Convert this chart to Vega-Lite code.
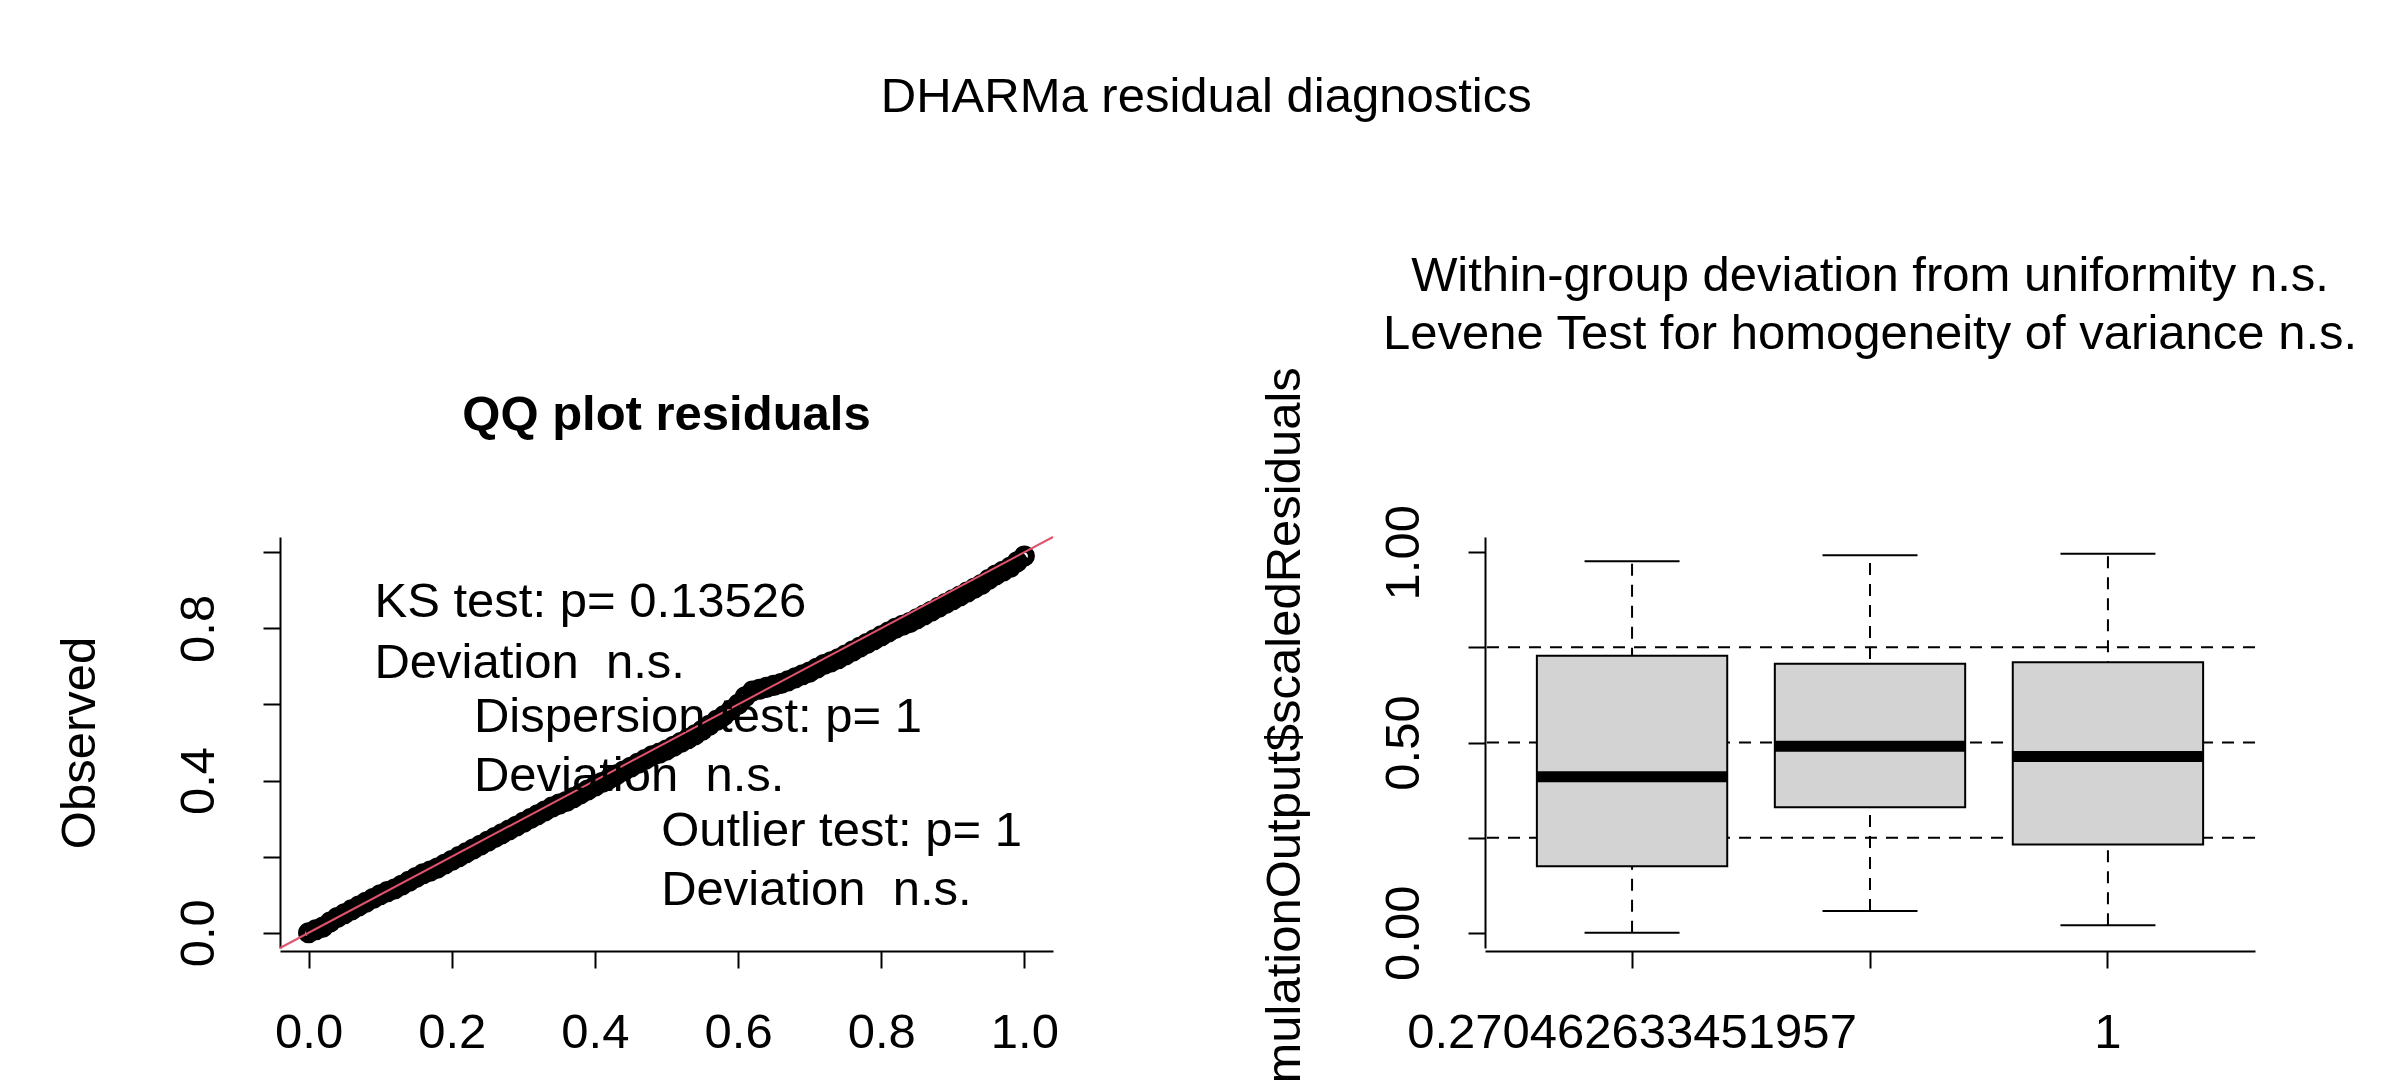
{
  "$schema": "https://vega.github.io/schema/vega-lite/v6.json",
  "background": "white",
  "padding": {"left": 55, "top": 72, "right": 10, "bottom": 10},
  "title": {"text": "DHARMa residual diagnostics", "fontSize": 49, "fontWeight": "normal", "font": "Liberation Sans", "anchor": "middle", "offset": 130},
  "config": {
    "view": {"stroke": null},
    "font": "Liberation Sans",
    "axis": {"labelFontSize": 49, "titleFontSize": 49, "titleFontWeight": "normal", "labelColor": "black", "titleColor": "black", "domainColor": "black", "tickColor": "black", "domainWidth": 2, "tickWidth": 2, "tickSize": 17, "grid": false, "labelFont": "Liberation Sans", "titleFont": "Liberation Sans", "labelLimit": 0}
  },
  "spacing": 200,
  "hconcat": [
    {
      "width": 773,
      "height": 411,
      "title": {"text": "QQ plot residuals", "fontSize": 49, "fontWeight": "bold", "offset": 95},
      "layer": [
        {
          "data": {"values": [
            {"e":0,"o":0},{"e":0.02,"o":0.015},{"e":0.04,"o":0.04},{"e":0.06,"o":0.06},{"e":0.08,"o":0.08},{"e":0.10,"o":0.10},{"e":0.12,"o":0.115},{"e":0.14,"o":0.135},{"e":0.16,"o":0.155},{"e":0.18,"o":0.17},{"e":0.20,"o":0.19},{"e":0.22,"o":0.21},{"e":0.24,"o":0.23},{"e":0.26,"o":0.25},{"e":0.28,"o":0.27},{"e":0.30,"o":0.29},{"e":0.32,"o":0.31},{"e":0.34,"o":0.33},{"e":0.36,"o":0.345},{"e":0.38,"o":0.365},{"e":0.40,"o":0.385},{"e":0.42,"o":0.405},{"e":0.44,"o":0.425},{"e":0.46,"o":0.445},{"e":0.48,"o":0.465},{"e":0.50,"o":0.48},{"e":0.52,"o":0.50},{"e":0.54,"o":0.52},{"e":0.56,"o":0.545},{"e":0.58,"o":0.57},{"e":0.60,"o":0.60},{"e":0.62,"o":0.635},{"e":0.64,"o":0.645},{"e":0.66,"o":0.655},{"e":0.68,"o":0.67},{"e":0.70,"o":0.685},{"e":0.72,"o":0.705},{"e":0.74,"o":0.72},{"e":0.76,"o":0.74},{"e":0.78,"o":0.76},{"e":0.80,"o":0.78},{"e":0.82,"o":0.80},{"e":0.84,"o":0.815},{"e":0.86,"o":0.835},{"e":0.88,"o":0.855},{"e":0.90,"o":0.875},{"e":0.92,"o":0.895},{"e":0.94,"o":0.915},{"e":0.96,"o":0.94},{"e":0.98,"o":0.96},{"e":1.0,"o":0.99},
            {"e":0.01,"o":0.008},{"e":0.03,"o":0.028},{"e":0.05,"o":0.05},{"e":0.07,"o":0.07},{"e":0.09,"o":0.09},{"e":0.11,"o":0.108},{"e":0.13,"o":0.125},{"e":0.15,"o":0.145},{"e":0.17,"o":0.162},{"e":0.19,"o":0.18},{"e":0.21,"o":0.2},{"e":0.23,"o":0.22},{"e":0.25,"o":0.24},{"e":0.27,"o":0.26},{"e":0.29,"o":0.28},{"e":0.31,"o":0.3},{"e":0.33,"o":0.32},{"e":0.35,"o":0.338},{"e":0.37,"o":0.355},{"e":0.39,"o":0.375},{"e":0.41,"o":0.395},{"e":0.43,"o":0.415},{"e":0.45,"o":0.435},{"e":0.47,"o":0.455},{"e":0.49,"o":0.472},{"e":0.51,"o":0.49},{"e":0.53,"o":0.51},{"e":0.55,"o":0.532},{"e":0.57,"o":0.558},{"e":0.59,"o":0.585},{"e":0.61,"o":0.62},{"e":0.63,"o":0.64},{"e":0.65,"o":0.65},{"e":0.67,"o":0.662},{"e":0.69,"o":0.678},{"e":0.71,"o":0.695},{"e":0.73,"o":0.712},{"e":0.75,"o":0.73},{"e":0.77,"o":0.75},{"e":0.79,"o":0.77},{"e":0.81,"o":0.79},{"e":0.83,"o":0.808},{"e":0.85,"o":0.825},{"e":0.87,"o":0.845},{"e":0.89,"o":0.865},{"e":0.91,"o":0.885},{"e":0.93,"o":0.905},{"e":0.95,"o":0.928},{"e":0.97,"o":0.95},{"e":0.99,"o":0.975}
          ]},
          "mark": {"type": "point", "filled": false, "color": "black", "size": 200, "strokeWidth": 7, "opacity": 1},
          "encoding": {
            "x": {"field": "e", "type": "quantitative", "scale": {"domain": [-0.04, 1.04], "nice": false}, "axis": {"title": "Expected", "values": [0, 0.2, 0.4, 0.6, 0.8, 1.0], "format": ".1f", "labelPadding": 40, "titlePadding": 75, "offset": 3}},
            "y": {"field": "o", "type": "quantitative", "scale": {"domain": [-0.04, 1.04], "nice": false}, "axis": {"title": "Observed", "values": [0, 0.2, 0.4, 0.6, 0.8, 1.0], "labelExpr": "datum.value == 0 || datum.value == 0.4 || datum.value == 0.8 ? format(datum.value, '.1f') : ''", "labelAngle": -90, "labelAlign": "center", "labelBaseline": "bottom", "labelPadding": 40, "titlePadding": 70, "offset": 0}}
          }
        },
        {
          "data": {"values": [{"a": -0.04, "b": 1.04}]},
          "mark": {"type": "rule", "color": "#DF536B", "strokeWidth": 2},
          "encoding": {
            "x": {"field": "a", "type": "quantitative"},
            "y": {"field": "a", "type": "quantitative"},
            "x2": {"field": "b"},
            "y2": {"field": "b"}
          }
        },
        {
          "data": {"values": [
            {"x": 0.092, "y": 0.87, "t": "KS test: p= 0.13526"},
            {"x": 0.092, "y": 0.71, "t": "Deviation \u00a0n.s."},
            {"x": 0.231, "y": 0.567, "t": "Dispersion test: p= 1"},
            {"x": 0.231, "y": 0.413, "t": "Deviation \u00a0n.s."},
            {"x": 0.4925, "y": 0.267, "t": "Outlier test: p= 1"},
            {"x": 0.4925, "y": 0.113, "t": "Deviation \u00a0n.s."}
          ]},
          "mark": {"type": "text", "align": "left", "baseline": "middle", "fontSize": 49, "color": "black"},
          "encoding": {
            "x": {"field": "x", "type": "quantitative"},
            "y": {"field": "y", "type": "quantitative"},
            "text": {"field": "t"}
          }
        }
      ]
    },
    {
      "width": 770,
      "height": 411,
      "title": {"text": ["Within-group deviation from uniformity n.s.", "Levene Test for homogeneity of variance n.s."], "fontSize": 49, "fontWeight": "normal", "offset": 8, "lineHeight": 58},
      "data": {"values": [
        {"cat": "0.270462633451957", "lo": 0.0, "q1": 0.175, "med": 0.41, "q3": 0.728, "hi": 0.976},
        {"cat": "0.6", "lo": 0.057, "q1": 0.33, "med": 0.49, "q3": 0.707, "hi": 0.992},
        {"cat": "1", "lo": 0.02, "q1": 0.232, "med": 0.463, "q3": 0.711, "hi": 0.996}
      ]},
      "encoding": {
        "x": {"field": "cat", "type": "nominal", "sort": null, "scale": {"paddingInner": 0.2, "paddingOuter": 0.218}, "axis": {"title": "catPred", "labelAngle": 0, "labelExpr": "datum.value == '0.6' ? '' : datum.value", "labelPadding": 40, "titlePadding": 75, "offset": 3}}
      },
      "layer": [
        {
          "data": {"values": [{"v": 0.25}, {"v": 0.5}, {"v": 0.75}]},
          "mark": {"type": "rule", "strokeDash": [12, 9], "strokeWidth": 2, "color": "black"},
          "encoding": {"x": null, "y": {"field": "v", "type": "quantitative"}}
        },
        {
          "mark": {"type": "rule", "strokeDash": [12, 9], "strokeWidth": 2, "color": "black"},
          "encoding": {"y": {"field": "lo", "type": "quantitative", "scale": {"domain": [-0.04, 1.04], "nice": false}, "axis": {"title": "simulationOutput$scaledResiduals", "values": [0, 0.25, 0.5, 0.75, 1.0], "labelExpr": "datum.value == 0 || datum.value == 0.5 || datum.value == 1 ? format(datum.value, '.2f') : ''", "labelAngle": -90, "labelAlign": "center", "labelBaseline": "bottom", "labelPadding": 40, "titlePadding": 70, "offset": 0}}, "y2": {"field": "hi"}}
        },
        {
          "mark": {"type": "bar", "fill": "#D3D3D3", "stroke": "black", "strokeWidth": 2, "opacity": 1},
          "encoding": {"y": {"field": "q1", "type": "quantitative"}, "y2": {"field": "q3"}}
        },
        {
          "mark": {"type": "tick", "color": "black", "thickness": 11, "size": 191, "orient": "horizontal", "opacity": 1},
          "encoding": {"y": {"field": "med", "type": "quantitative"}}
        },
        {
          "mark": {"type": "tick", "color": "black", "thickness": 2, "size": 95, "orient": "horizontal", "opacity": 1},
          "encoding": {"y": {"field": "lo", "type": "quantitative"}}
        },
        {
          "mark": {"type": "tick", "color": "black", "thickness": 2, "size": 95, "orient": "horizontal", "opacity": 1},
          "encoding": {"y": {"field": "hi", "type": "quantitative"}}
        }
      ]
    }
  ]
}
